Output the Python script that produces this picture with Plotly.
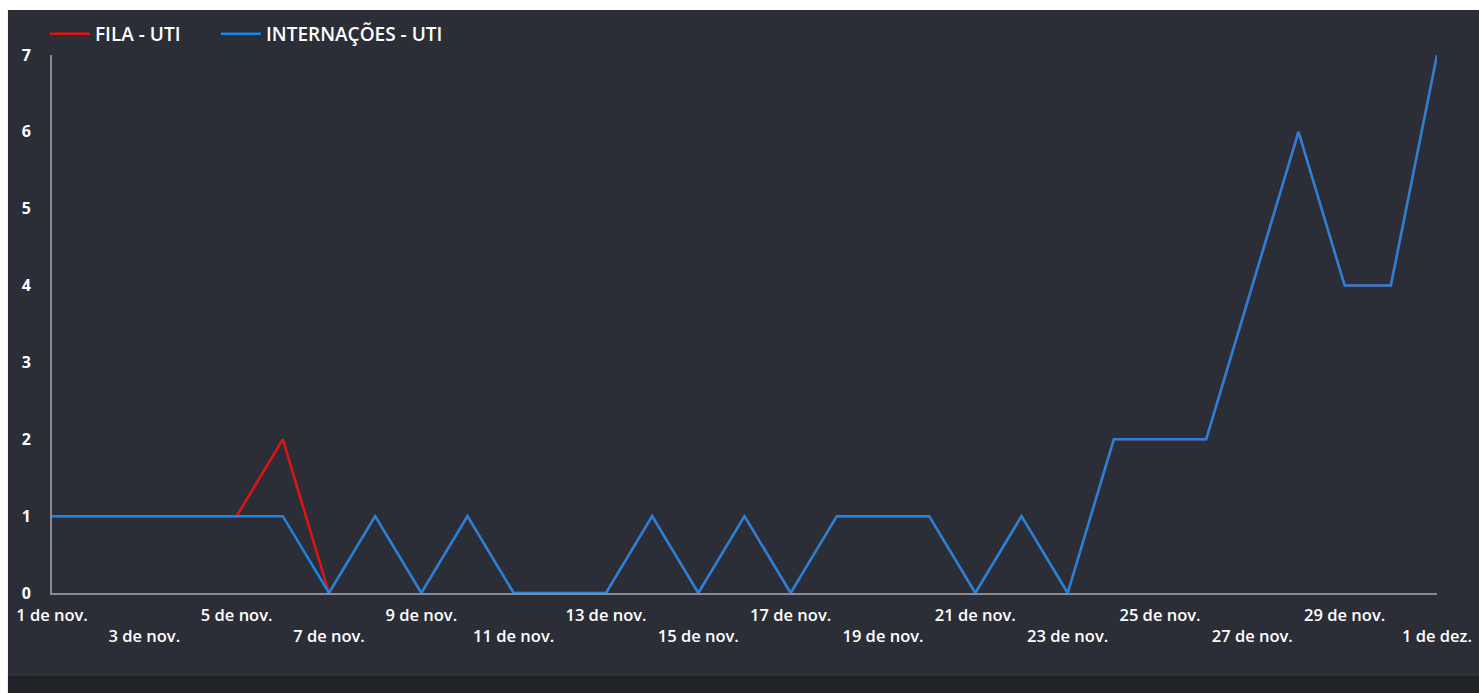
import plotly.graph_objects as go
import pandas as pd

dates = pd.date_range("2023-11-01", "2023-12-01", freq="D")
fila_uti = [1, 1, 1, 1, 1, 2, 0, 1, 0, 1, 0, 0, 0, 1, 0, 1, 0, 1, 1, 1, 0, 1, 0, 2, 2, 2, 4, 6, 4, 4, 7]
internacoes_uti = [1, 1, 1, 1, 1, 1, 0, 1, 0, 1, 0, 0, 0, 1, 0, 1, 0, 1, 1, 1, 0, 1, 0, 2, 2, 2, 4, 6, 4, 4, 7]

tick_dates_row1 = ["2023-11-01", "2023-11-05", "2023-11-09", "2023-11-13", "2023-11-17",
                   "2023-11-21", "2023-11-25", "2023-11-29"]
tick_text_row1 = ["1 de nov.", "5 de nov.", "9 de nov.", "13 de nov.", "17 de nov.",
                  "21 de nov.", "25 de nov.", "29 de nov."]
tick_dates_row2 = ["2023-11-03", "2023-11-07", "2023-11-11", "2023-11-15", "2023-11-19",
                   "2023-11-23", "2023-11-27", "2023-12-01"]
tick_text_row2 = ["3 de nov.", "7 de nov.", "11 de nov.", "15 de nov.", "19 de nov.",
                  "23 de nov.", "27 de nov.", "1 de dez."]
y_ticks = [0, 1, 2, 3, 4, 5, 6, 7]

PANEL = "#2c2e37"
FONT = "Open Sans"
TICKFONT = dict(family=FONT, size=16.5, color="white", weight=600)
LEGFONT = dict(family=FONT, size=19, color="white", weight=600)

fig = go.Figure()
fig.add_trace(go.Scatter(x=dates, y=fila_uti, mode="lines", name="FILA - UTI", legend="legend",
                         line=dict(color="#e41313", width=2.5)))
fig.add_trace(go.Scatter(x=dates, y=internacoes_uti, mode="lines", name="INTERNAÇÕES - UTI",
                         legend="legend2", line=dict(color="#1b86e0", width=2.5)))
# carrier trace for the second row of date labels (invisible)
fig.add_trace(go.Scatter(x=dates, y=internacoes_uti, mode="lines", xaxis="x2",
                         line=dict(width=0), opacity=0, showlegend=False, hoverinfo="skip"))

xr = ["2023-11-01", "2023-12-01"]
legend_common = dict(orientation="h", xref="container", yref="container",
                     y=1 - 15 / 693, xanchor="left", yanchor="top",
                     font=LEGFONT, bgcolor="rgba(0,0,0,0)", itemwidth=40)
fig.update_layout(
    width=1479, height=693,
    margin=dict(l=52, r=42, t=55, b=100, autoexpand=False),
    paper_bgcolor=PANEL, plot_bgcolor=PANEL,
    font=dict(family=FONT, color="white", size=12),
    showlegend=True,
    legend=dict(x=45 / 1479, **legend_common),
    legend2=dict(x=216 / 1479, **legend_common),
    xaxis=dict(range=xr, tickmode="array", tickvals=tick_dates_row1, ticktext=tick_text_row1,
               showgrid=False, zeroline=False, showline=True, linecolor="#8a8b90", linewidth=2,
               ticks="", tickfont=TICKFONT, ticklabelstandoff=6),
    xaxis2=dict(range=xr, overlaying="x", side="bottom", anchor="y", tickmode="array",
                tickvals=tick_dates_row2, ticktext=tick_text_row2,
                showgrid=False, zeroline=False, showline=False, ticks="",
                tickfont=TICKFONT, ticklabelstandoff=31),
    yaxis=dict(range=[0, 7], tickmode="array", tickvals=y_ticks, showgrid=False, zeroline=False,
               showline=True, linecolor="#8a8b90", linewidth=2, ticks="",
               tickfont=dict(family=FONT, size=16, color="white", weight=700),
               ticklabelstandoff=16),
)

# page edges: white strip at top and left, darker strip at bottom
fig.add_shape(type="rect", xref="paper", yref="paper", x0=-0.05, x1=1.05, y0=1.0836, y1=1.11,
              fillcolor="white", line_width=0, layer="below")
fig.add_shape(type="rect", xref="paper", yref="paper", x0=-0.05, x1=-0.0318, y0=-0.2, y1=1.11,
              fillcolor="white", line_width=0, layer="below")
fig.add_shape(type="rect", xref="paper", yref="paper", x0=-0.0318, x1=1.05, y0=-0.2, y1=-0.1524,
              fillcolor="#212226", line_width=0, layer="below")
fig.add_shape(type="line", xref="paper", yref="paper", x0=-0.0318, x1=1.05, y0=-0.1524, y1=-0.1524,
              line=dict(color="#3a3c44", width=1), layer="below")

fig.write_html("out.html", config={"displayModeBar": False},
               post_script="document.body.style.margin='0';document.body.style.overflow='hidden';")
